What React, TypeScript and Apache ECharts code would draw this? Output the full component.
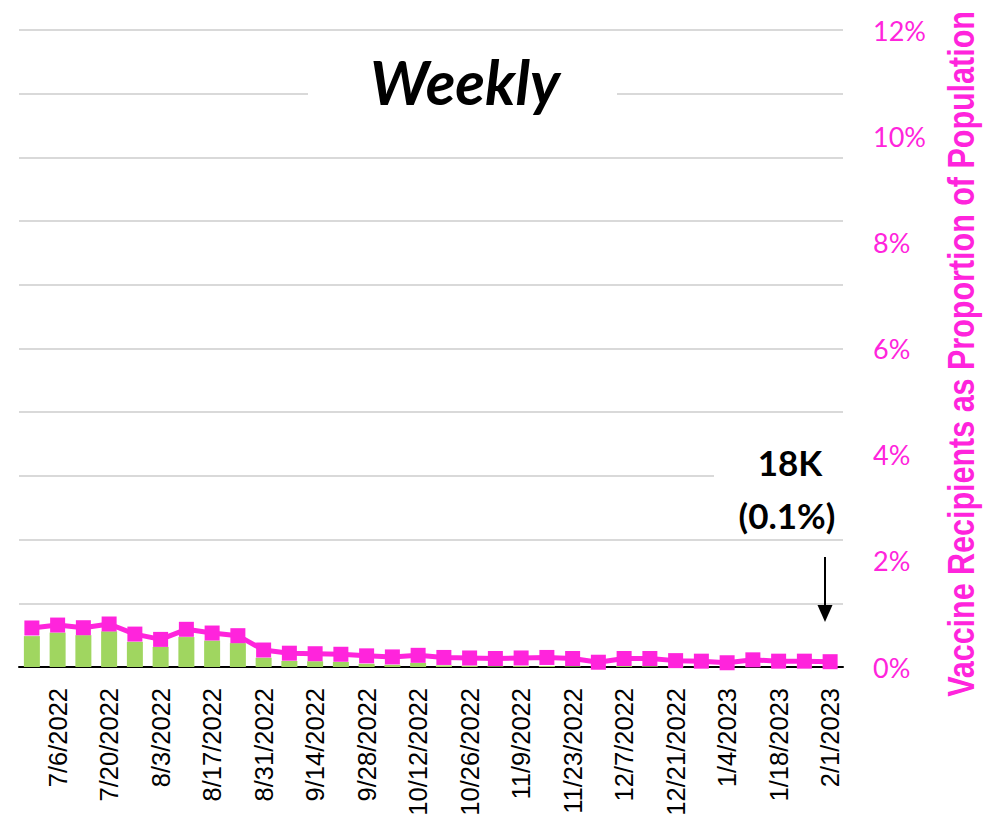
import React, { useEffect, useRef } from "react";
import * as echarts from "echarts";

const categories = [
  "6/29/2022", "7/6/2022", "7/13/2022", "7/20/2022", "7/27/2022", "8/3/2022", "8/10/2022", "8/17/2022",
  "8/24/2022", "8/31/2022", "9/7/2022", "9/14/2022", "9/21/2022", "9/28/2022", "10/5/2022", "10/12/2022",
  "10/19/2022", "10/26/2022", "11/2/2022", "11/9/2022", "11/16/2022", "11/23/2022", "11/30/2022", "12/7/2022",
  "12/14/2022", "12/21/2022", "12/28/2022", "1/4/2023", "1/11/2023", "1/18/2023", "1/25/2023", "2/1/2023",
];

// weekly recipients (thousands) - green bars, hidden left axis
const barValues = [
  97, 108, 100, 112, 79, 63, 94, 83, 75, 29, 19, 18, 16, 10, 7, 13,
  5, 4, 2, 3, 3, 2, 1, 3, 2, 2, 1, 1, 2, 1, 1, 1,
];

// recipients as % of population - pink line, right axis
const pctValues = [
  0.735, 0.79, 0.74, 0.81, 0.62, 0.52, 0.71, 0.64, 0.59, 0.32, 0.26, 0.25, 0.24, 0.21, 0.19, 0.22,
  0.18, 0.17, 0.16, 0.17, 0.18, 0.16, 0.09, 0.16, 0.16, 0.12, 0.11, 0.08, 0.135, 0.11, 0.11, 0.1,
];

const rightTicks = { min: 0, max: 12, interval: 2 };
const leftTicks = { min: 0, max: 2000, interval: 200 };

const titleText = "Weekly";
const annotationLines = ["18K", "(0.1%)"];
const rightAxisName = "Vaccine Recipients as Proportion of Population";

const PINK = "#FF24DC";
const GREEN = "#A0D660";
const SANS = "'Liberation Sans', Arial, sans-serif";

export default function App() {
  const ref = useRef<HTMLDivElement>(null);
  useEffect(() => {
    if (!ref.current) return;
    const chart = echarts.init(ref.current, null, { renderer: "svg" });
    chart.setOption({
      animation: false,
      backgroundColor: "#ffffff",
      grid: { left: 19, right: 157, top: 30, bottom: 152, containLabel: false, outerBoundsMode: "none" },
      xAxis: {
        type: "category",
        data: categories,
        boundaryGap: true,
        axisLine: { show: true, lineStyle: { color: "#000", width: 2 } },
        axisTick: { show: false },
        axisLabel: {
          rotate: 90,
          margin: 21,
          color: "#000",
          fontFamily: SANS,
          fontSize: 25.5,
          interval: (index: number) => index % 2 === 1,
        },
        splitLine: { show: false },
      },
      yAxis: [
        {
          type: "value",
          position: "left",
          min: leftTicks.min,
          max: leftTicks.max,
          interval: leftTicks.interval,
          axisLabel: { show: false },
          axisLine: { show: false },
          axisTick: { show: false },
          splitLine: { show: true, lineStyle: { color: "#d9d9d9", width: 2 } },
        },
        {
          type: "value",
          position: "right",
          min: rightTicks.min,
          max: rightTicks.max,
          interval: rightTicks.interval,
          axisLine: { show: false },
          axisTick: { show: false },
          splitLine: { show: false },
          axisLabel: {
            formatter: "{value}%",
            color: PINK,
            fontFamily: "Lato, 'Open Sans', sans-serif",
            fontSize: 27,
            margin: 30,
            align: "left",
          },
        },
      ],
      series: [
        {
          type: "bar",
          yAxisIndex: 0,
          data: barValues,
          barWidth: 16,
          itemStyle: { color: GREEN },
          z: 2,
        },
        {
          type: "line",
          yAxisIndex: 1,
          data: pctValues,
          symbol: "rect",
          symbolSize: 15,
          lineStyle: { color: PINK, width: 5 },
          itemStyle: { color: PINK },
          z: 3,
        },
      ],
      graphic: [
        { type: "rect", shape: { x: 308, y: 50, width: 309, height: 66 }, style: { fill: "#fff" }, z: 10 },
        {
          type: "text",
          x: 465,
          y: 81,
          z: 11,
          style: {
            text: titleText,
            fill: "#000",
            font: "italic bold 61px Lato, 'Open Sans', sans-serif",
            align: "center",
            verticalAlign: "middle",
          },
        },
        { type: "rect", shape: { x: 714, y: 436, width: 135, height: 96 }, style: { fill: "#fff" }, z: 10 },
        {
          type: "text",
          x: 790,
          y: 462,
          z: 11,
          style: {
            text: annotationLines[0],
            fill: "#000",
            font: "bold 35px Lato, 'Open Sans', sans-serif",
            align: "center",
            verticalAlign: "middle",
          },
        },
        {
          type: "text",
          x: 787,
          y: 515,
          z: 11,
          style: {
            text: annotationLines[1],
            fill: "#000",
            font: "bold 35px Lato, 'Open Sans', sans-serif",
            align: "center",
            verticalAlign: "middle",
          },
        },
        {
          type: "line",
          z: 11,
          shape: { x1: 825, y1: 557, x2: 825, y2: 608 },
          style: { stroke: "#000", lineWidth: 2 },
        },
        {
          type: "polygon",
          z: 11,
          shape: { points: [[817.5, 605], [832.5, 605], [825, 622]] },
          style: { fill: "#000" },
        },
        {
          type: "text",
          x: 961,
          y: 354,
          rotation: Math.PI / 2,
          scaleX: 0.813,
          scaleY: 1,
          z: 11,
          style: {
            text: rightAxisName,
            fill: PINK,
            font: "bold 37.5px " + SANS,
            align: "center",
            verticalAlign: "middle",
          },
        },
      ],
    });
    return () => chart.dispose();
  }, []);
  return (
    <div
      ref={ref}
      style={{ position: "fixed", left: 0, top: 0, width: 1000, height: 819 }}
    />
  );
}
